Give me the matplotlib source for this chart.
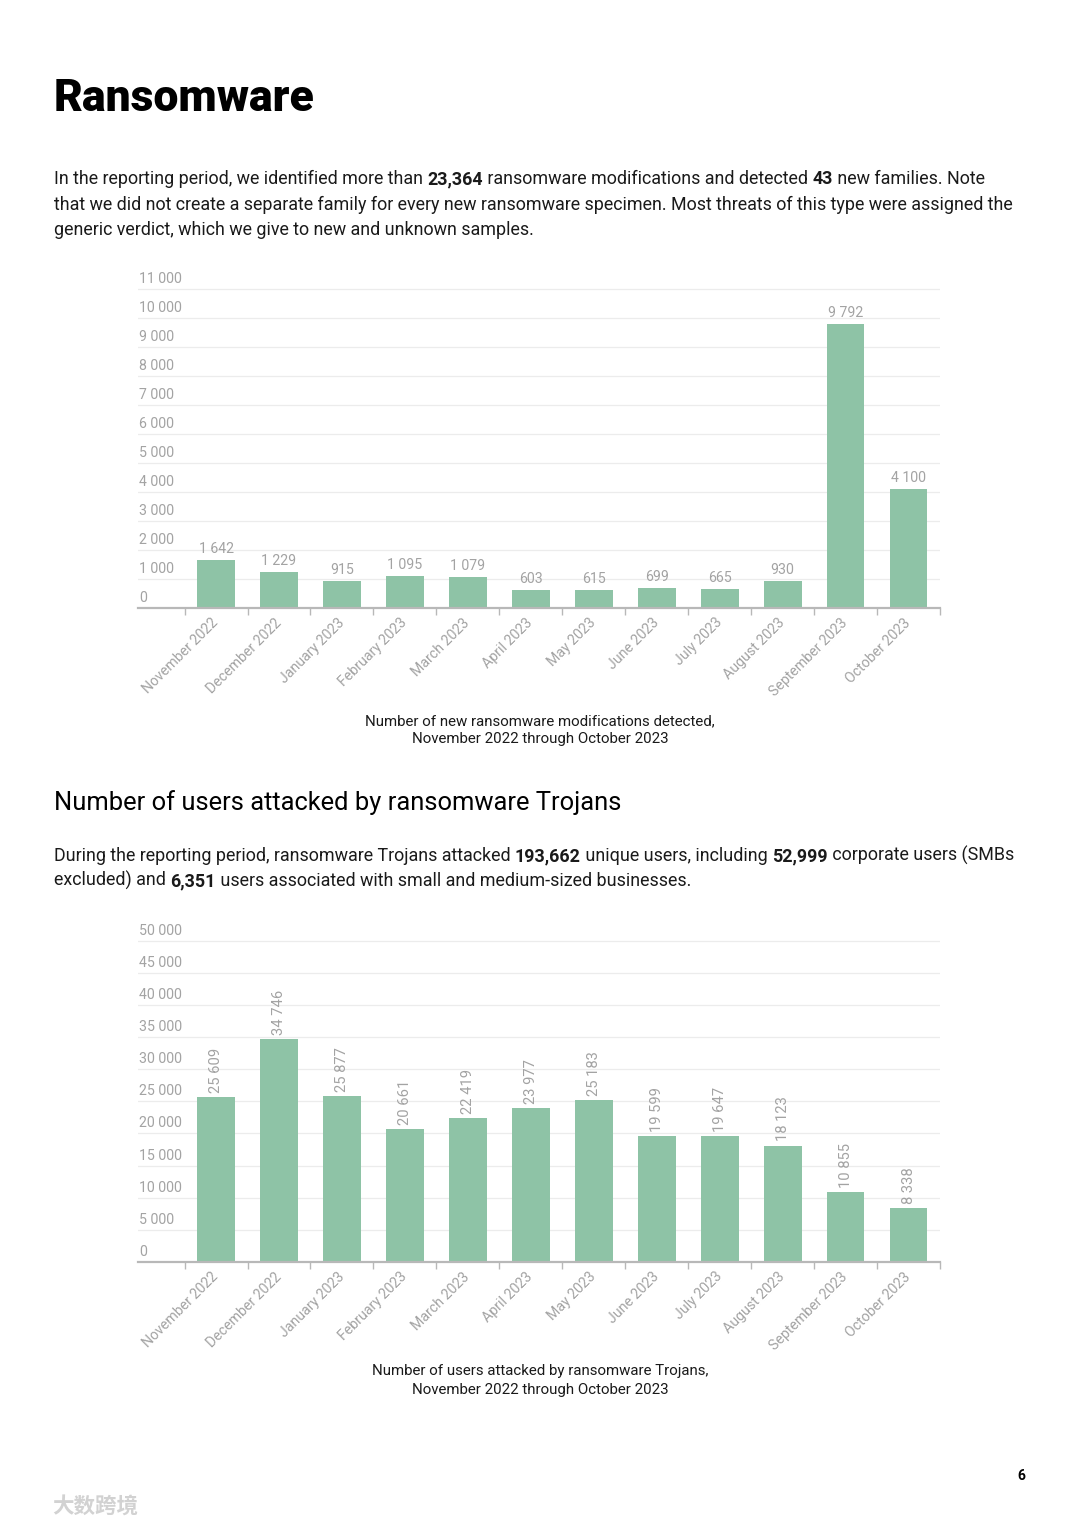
import matplotlib
matplotlib.use('Agg')
import matplotlib.pyplot as plt

W, H, DPI = 1080, 1527, 100

months = ["November 2022", "December 2022", "January 2023", "February 2023",
          "March 2023", "April 2023", "May 2023", "June 2023", "July 2023",
          "August 2023", "September 2023", "October 2023"]
modifications = [1642, 1229, 915, 1095, 1079, 603, 615, 699, 665, 930, 9792, 4100]
users_attacked = [25609, 34746, 25877, 20661, 22419, 23977, 25183, 19599,
                  19647, 18123, 10855, 8338]
mod_ticks = list(range(0, 11001, 1000))
user_ticks = list(range(0, 50001, 5000))

BAR = '#8ec3a6'
GRAY = '#a3a3a3'
GRID = '#ececec'
TXT = '#1a1a1a'
FONT = 'Roboto'

plt.rcParams['font.family'] = [FONT, 'DejaVu Sans']

fig = plt.figure(figsize=(W / DPI, H / DPI), dpi=DPI)
renderer = fig.canvas.get_renderer()


def fmt(v):
    return f"{v:,}".replace(",", " ")


def px_axes(left, top, right, bottom):
    return fig.add_axes([left / W, 1 - bottom / H, (right - left) / W, (bottom - top) / H])


def bar_chart(ax, values, ticks, vertical_labels):
    x = list(range(len(values)))
    ax.bar(x, values, width=0.6, color=BAR, zorder=2)
    ax.set_xlim(-1.24, len(values) - 0.5)
    ax.set_ylim(0, ticks[-1] * 1.002)
    for s in ['top', 'right', 'left']:
        ax.spines[s].set_visible(False)
    ax.spines['bottom'].set_color('#b8b8b8')
    ax.spines['bottom'].set_linewidth(1.6)
    ax.set_yticks(ticks)
    ax.tick_params(axis='y', length=0, labelleft=False)
    ax.grid(axis='y', color=GRID, lw=0.9, zorder=0)
    for t in ticks:
        ax.annotate(fmt(t), xy=(0, t), xycoords=('axes fraction', 'data'),
                    xytext=(1, 2.2), textcoords='offset points',
                    ha='left', va='bottom', fontsize=10.2, color=GRAY)
    ax.set_xticks(x)
    ax.set_xticklabels(months, rotation=45, ha='right', va='center',
                       rotation_mode='anchor', fontsize=10.2, color=GRAY)
    ax.tick_params(axis='x', which='major', length=0, pad=9)
    ax.set_xticks([i - 0.5 for i in range(len(values) + 1)], minor=True)
    ax.tick_params(axis='x', which='minor', length=5, width=1, color='#b8b8b8')
    for xi, v in zip(x, values):
        if vertical_labels:
            ax.annotate(fmt(v), xy=(xi, v), xytext=(0, 3), textcoords='offset points',
                        ha='center', va='bottom', rotation=90, fontsize=10.6, color=GRAY)
        else:
            ax.annotate(fmt(v), xy=(xi, v), xytext=(0, 3), textcoords='offset points',
                        ha='center', va='bottom', fontsize=10.2, color=GRAY)


ax1 = px_axes(138, 288, 940, 608)
bar_chart(ax1, modifications, mod_ticks, False)
ax2 = px_axes(138, 940, 940, 1262)
bar_chart(ax2, users_attacked, user_ticks, True)


def ptext(x, y, s, **kw):
    return fig.text(x / W, 1 - y / H, s, **kw)


def width_px(s, **kw):
    t = fig.text(0, 0, s, **kw)
    w = t.get_window_extent(renderer).width
    t.remove()
    return w


def rich_line(x, y, segments, size):
    for seg, bold in segments:
        kw = dict(fontsize=size, fontweight='bold' if bold else 'normal', color=TXT)
        ptext(x, y, seg, ha='left', va='baseline', **kw)
        x += width_px(seg + '|', **kw) - width_px('|', **kw)


ptext(54, 111, "Ransomware", fontsize=32, fontweight='black', color='black',
      ha='left', va='baseline')

BODY = 12.85
rich_line(54, 184, [("In the reporting period, we identified more than ", False),
                    ("23,364", True),
                    (" ransomware modifications and detected ", False),
                    ("43", True), (" new families. Note", False)], BODY)
rich_line(54, 210, [("that we did not create a separate family for every new ransomware specimen. "
                     "Most threats of this type were assigned the", False)], BODY)
rich_line(54, 235, [("generic verdict, which we give to new and unknown samples.", False)], BODY)

CAP = 10.8
ptext(540, 725, "Number of new ransomware modifications detected,", fontsize=CAP,
      color=TXT, ha='center', va='baseline')
ptext(540, 743, "November 2022 through October 2023", fontsize=CAP,
      color=TXT, ha='center', va='baseline')

ptext(54, 810, "Number of users attacked by ransomware Trojans", fontsize=18.4,
      color='black', ha='left', va='baseline')

rich_line(54, 861, [("During the reporting period, ransomware Trojans attacked ", False),
                    ("193,662", True), (" unique users, including ", False),
                    ("52,999", True), (" corporate users (SMBs", False)], BODY)
rich_line(54, 886, [("excluded) and ", False), ("6,351", True),
                    (" users associated with small and medium-sized businesses.", False)], BODY)

ptext(540, 1375, "Number of users attacked by ransomware Trojans,", fontsize=CAP,
      color=TXT, ha='center', va='baseline')
ptext(540, 1394, "November 2022 through October 2023", fontsize=CAP,
      color=TXT, ha='center', va='baseline')

ptext(1021, 1476, "6", fontsize=10, fontweight='bold', color='black', ha='center', va='center')
ptext(52, 1507, "大数跨境", fontsize=15.5, color='#d2d2d2', ha='left', va='center',
      family=['Noto Sans CJK SC', 'DejaVu Sans'], fontweight='bold')

fig.savefig('out.png', dpi=DPI, facecolor='white')
